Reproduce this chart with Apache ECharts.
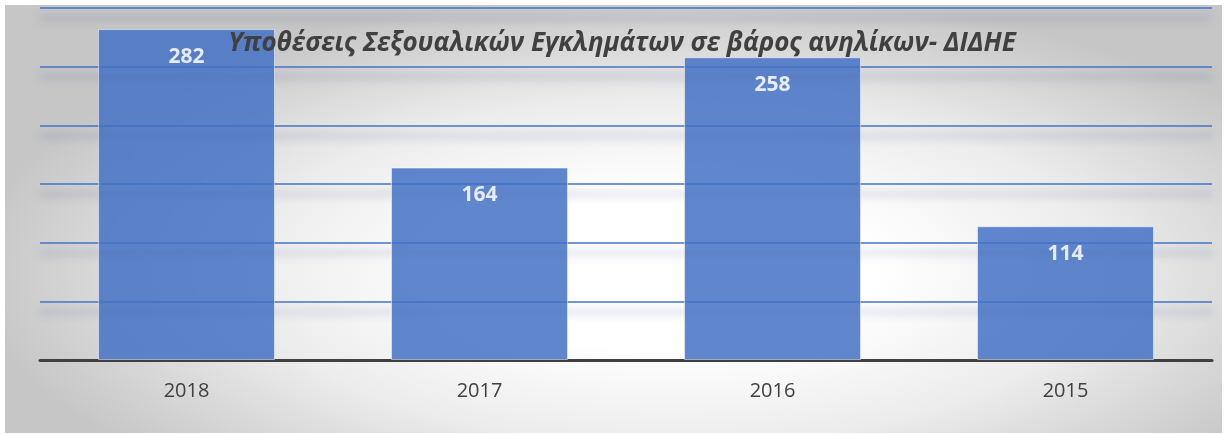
<!DOCTYPE html>
<html>
<head>
    <meta charset="utf-8">
    <script src="https://cdn.jsdelivr.net/npm/echarts@6/dist/echarts.min.js"></script>
    <style>
        body { margin: 0; background: #ffffff; }
        #main {
            position: absolute; left: 5px; top: 5px;
            width: 1217px; height: 428px;
            background: radial-gradient(ellipse farthest-side at 55% 62%, #ffffff 30%, #ececec 65%, #c6c6c6 105%);
        }
    </style>
</head>
<body>
<div id="main"></div>
<script type="text/javascript">
    // data
    var years = ['2018', '2017', '2016', '2015'];
    var cases = [282, 164, 258, 114];
    var chartTitle = 'Υποθέσεις Σεξουαλικών Εγκλημάτων σε βάρος ανηλίκων- ΔΙΔΗΕ';

    var myChart = echarts.init(document.getElementById('main'));

    var option = {
        backgroundColor: 'transparent',
        title: {
            text: chartTitle,
            left: 617,
            textAlign: 'center',
            top: 26,
            padding: 0,
            z: 10,
            textStyle: {
                fontFamily: 'Open Sans',
                fontSize: 26,
                fontWeight: 'bold',
                fontStyle: 'italic',
                color: '#404040'
            }
        },
        grid: {
            left: 35,
            right: 10,
            top: 3,
            bottom: 73
        },
        xAxis: {
            type: 'category',
            data: years,
            axisTick: { show: false },
            axisLine: {
                lineStyle: { color: '#404040', width: 3 }
            },
            axisLabel: {
                margin: 21,
                fontFamily: 'Open Sans',
                fontSize: 20,
                color: '#404040'
            }
        },
        yAxis: {
            type: 'value',
            min: 0,
            max: 300,
            interval: 50,
            axisLabel: { show: false },
            axisLine: { show: false },
            axisTick: { show: false },
            splitLine: {
                showMinLine: false,
                lineStyle: {
                    color: '#4472C4',
                    width: 1.5,
                    shadowColor: 'rgba(60,85,150,0.6)',
                    shadowBlur: 8,
                    shadowOffsetY: 10
                }
            }
        },
        series: [{
            name: 'cases',
            type: 'bar',
            data: cases,
            barWidth: 177,
            itemStyle: {
                color: '#4472C4',
                opacity: 0.85,
                borderColor: 'rgba(255,255,255,0.6)',
                borderWidth: 1
            },
            label: {
                show: true,
                position: 'insideTop',
                distance: 17,
                fontFamily: 'Open Sans',
                fontSize: 21,
                fontWeight: 'bold',
                color: '#ffffff'
            }
        }]
    };

    myChart.setOption(option);
</script>
</body>
</html>
